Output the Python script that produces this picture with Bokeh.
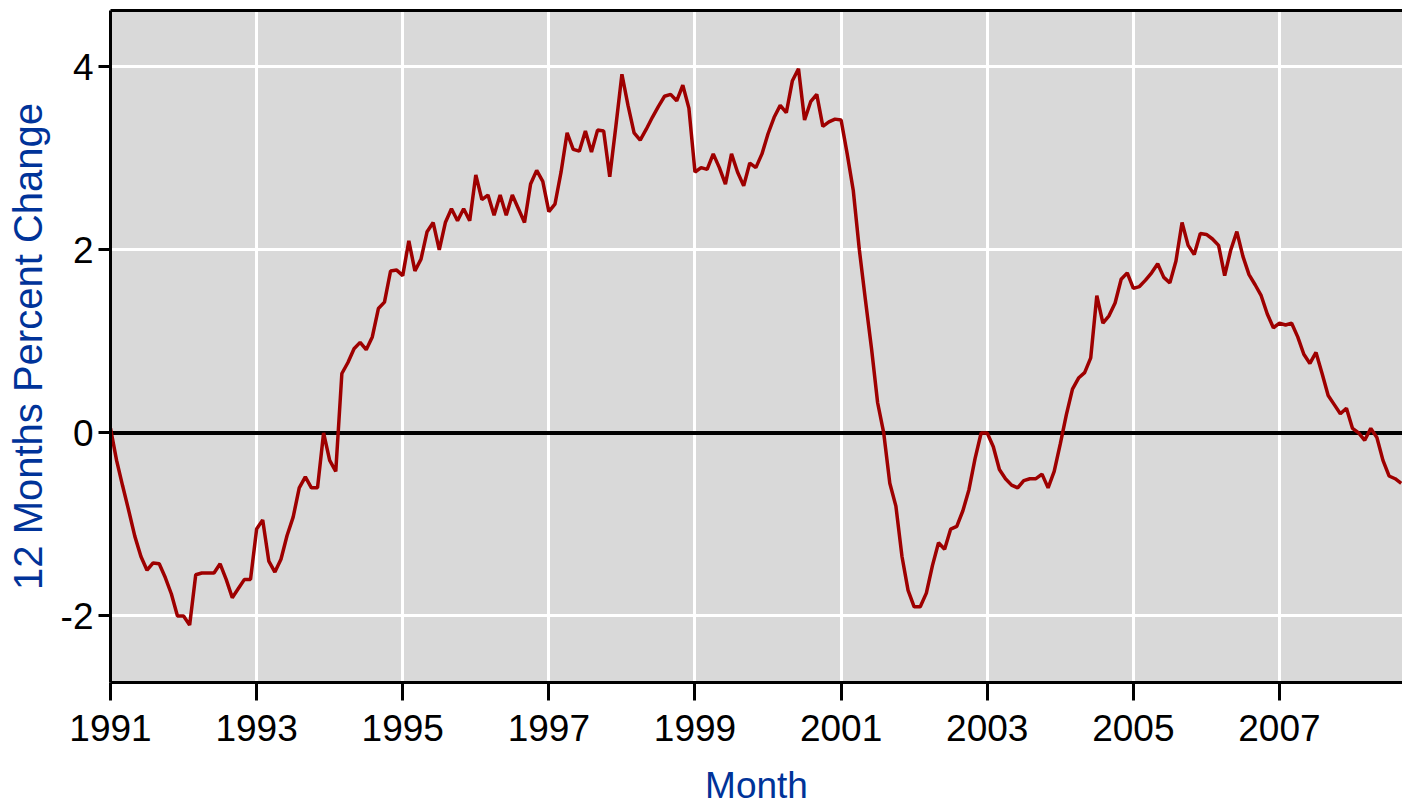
import numpy as np
from bokeh.plotting import figure
from bokeh.models import FixedTicker, LinearAxis, Span, Range1d
from bokeh.embed import file_html
from bokeh.resources import INLINE

# 12-month percent change, monthly values
y1991 = [0.05, -0.3, -0.58, -0.85, -1.13, -1.35, -1.5, -1.42, -1.43, -1.58, -1.76, -2.0]
y1992 = [-2.0, -2.1, -1.55, -1.53, -1.53, -1.53, -1.43, -1.6, -1.8, -1.7, -1.6, -1.6]
y1993 = [-1.05, -0.95, -1.4, -1.52, -1.38, -1.12, -0.92, -0.6, -0.48, -0.6, -0.6, 0.0]
y1994 = [-0.3, -0.42, 0.65, 0.77, 0.92, 0.99, 0.91, 1.05, 1.36, 1.43, 1.77, 1.78]
y1995 = [1.72, 2.1, 1.77, 1.9, 2.2, 2.3, 2.0, 2.3, 2.45, 2.32, 2.45, 2.32]
y1996 = [2.82, 2.55, 2.6, 2.38, 2.6, 2.38, 2.6, 2.45, 2.3, 2.72, 2.87, 2.75]
y1997 = [2.42, 2.5, 2.85, 3.28, 3.1, 3.08, 3.3, 3.07, 3.31, 3.3, 2.8, 3.35]
y1998 = [3.92, 3.58, 3.28, 3.2, 3.32, 3.45, 3.57, 3.68, 3.7, 3.63, 3.8, 3.55]
y1999 = [2.85, 2.9, 2.88, 3.05, 2.9, 2.72, 3.05, 2.85, 2.7, 2.95, 2.9, 3.05]
y2000 = [3.27, 3.45, 3.58, 3.5, 3.85, 3.98, 3.42, 3.62, 3.7, 3.35, 3.4, 3.43]
y2001 = [3.42, 3.05, 2.65, 2.0, 1.45, 0.92, 0.33, 0.0, -0.55, -0.8, -1.35, -1.72]
y2002 = [-1.9, -1.9, -1.75, -1.45, -1.2, -1.27, -1.05, -1.02, -0.85, -0.62, -0.28, 0.0]
y2003 = [0.0, -0.15, -0.4, -0.5, -0.57, -0.6, -0.52, -0.5, -0.5, -0.45, -0.6, -0.42]
y2004 = [-0.12, 0.2, 0.48, 0.6, 0.66, 0.82, 1.5, 1.2, 1.28, 1.42, 1.68, 1.75]
y2005 = [1.58, 1.6, 1.67, 1.75, 1.85, 1.7, 1.64, 1.88, 2.3, 2.05, 1.95, 2.18]
y2006 = [2.17, 2.12, 2.05, 1.72, 2.0, 2.2, 1.93, 1.73, 1.62, 1.5, 1.3, 1.15]
y2007 = [1.2, 1.18, 1.2, 1.05, 0.86, 0.76, 0.88, 0.65, 0.41, 0.31, 0.21, 0.27]
y2008 = [0.05, 0.0, -0.08, 0.05, -0.05, -0.3, -0.47, -0.5, -0.55]

start_year = 1991
x_ticks = [1991, 1993, 1995, 1997, 1999, 2001, 2003, 2005, 2007]
y_ticks = [-2, 0, 2, 4]
y_tick_labels = {-2: "-2", 0: "0", 2: "2", 4: "4"}
x_title = "Month"
y_title = "12 Months Percent Change"

values = (y1991 + y1992 + y1993 + y1994 + y1995 + y1996 + y1997 + y1998 + y1999
          + y2000 + y2001 + y2002 + y2003 + y2004 + y2005 + y2006 + y2007 + y2008)
xs = start_year + np.arange(len(values)) / 12.0

FONT = "Liberation Sans"
BLUE = "#003399"

p = figure(width=1402, height=809, output_backend="svg", toolbar_location=None,
           x_range=Range1d(start_year, 2008.684), y_range=Range1d(-2.727, 4.617),
           min_border_left=110, min_border_right=0, min_border_top=10, min_border_bottom=127)
p.background_fill_color = "#D9D9D9"
p.border_fill_color = "white"
p.outline_line_color = None

# grids
p.xgrid.ticker = FixedTicker(ticks=x_ticks)
p.ygrid.ticker = FixedTicker(ticks=y_ticks)
for g in (p.xgrid, p.ygrid):
    g.grid_line_color = "white"
    g.grid_line_width = 3

# axes
for ax in (p.xaxis, p.yaxis):
    ax.axis_line_width = 3
    ax.axis_line_color = "black"
    ax.major_tick_line_width = 3
    ax.major_tick_in = 0
    ax.minor_tick_line_color = None
    ax.major_label_text_font = FONT
    ax.major_label_text_font_size = "37px"
    ax.major_label_text_color = "black"
    ax.axis_label_text_font = FONT
    ax.axis_label_text_font_style = "normal"
    ax.axis_label_text_color = BLUE

p.xaxis.ticker = FixedTicker(ticks=x_ticks)
p.xaxis.major_label_overrides = {t: str(t) for t in x_ticks}
p.xaxis.major_tick_out = 18
p.xaxis.major_label_standoff = 14
p.xaxis.axis_label = x_title
p.xaxis.axis_label_text_font_size = "37px"
p.xaxis.axis_label_standoff = 21

p.yaxis.ticker = FixedTicker(ticks=y_ticks)
p.yaxis.major_label_overrides = y_tick_labels
p.yaxis.major_tick_out = 12
p.yaxis.major_label_standoff = 5
p.yaxis.axis_label = y_title
p.yaxis.axis_label_text_font_size = "40px"
p.yaxis.axis_label_standoff = 8

# top border line
top = LinearAxis(ticker=FixedTicker(ticks=[]), axis_line_width=3, axis_line_color="black",
                 major_tick_out=0, major_tick_in=0, minor_tick_out=0, minor_tick_in=0,
                 major_label_text_font_size="0px", major_label_standoff=0)
p.add_layout(top, "above")

# zero line
p.add_layout(Span(location=0, dimension="width", line_color="black", line_width=4, level="underlay"))

p.line(xs, values, line_color="#9E0000", line_width=3.5)

open("out.html", "w").write(file_html(p, INLINE))
